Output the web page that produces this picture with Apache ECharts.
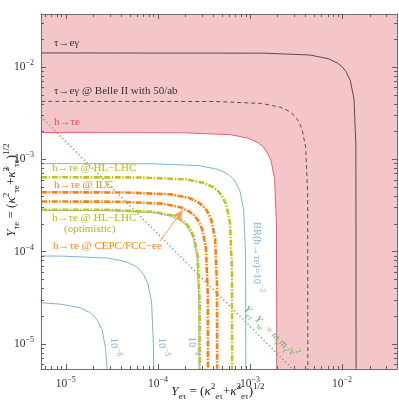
<!DOCTYPE html>
<html>
<head>
<meta charset="utf-8">
<script src="https://cdn.jsdelivr.net/npm/echarts@6/dist/echarts.min.js"></script>
<style>
  html, body { margin: 0; padding: 0; background: #fff; }
  #chart { width: 399px; height: 403px; }
</style>
</head>
<body>
<div id="chart"></div>
<script>
  // axis range (log10 scale) and tick values
  const xRange = [5.37e-6, 0.0395]
  const yRange = [5.37e-6, 0.0375]
  const majorTicks = [1e-5, 1e-4, 1e-3, 1e-2]
  const minorTicks = [6e-6, 7e-6, 8e-6, 9e-6,
    2e-5, 3e-5, 4e-5, 5e-5, 6e-5, 7e-5, 8e-5, 9e-5,
    2e-4, 3e-4, 4e-4, 5e-4, 6e-4, 7e-4, 8e-4, 9e-4,
    2e-3, 3e-3, 4e-3, 5e-3, 6e-3, 7e-3, 8e-3, 9e-3,
    2e-2, 3e-2]

  // curves: [Y_et, Y_te]
  const tauEGamma = [[5.4e-6, 0.0142], [0.00142, 0.01413], [0.00449, 0.01348], [0.0071, 0.0123], [0.00895, 0.01102], [0.01004, 0.01004], [0.01102, 0.00895], [0.0123, 0.0071], [0.01348, 0.00449], [0.01413, 0.00142], [0.0142, 5.4e-6]]
  const belle2 = [[5.4e-6, 0.00425], [0.000425, 0.00423], [0.00134, 0.00403], [0.002125, 0.00368], [0.00268, 0.0033], [0.003, 0.003], [0.0033, 0.00268], [0.00368, 0.002125], [0.00403, 0.00134], [0.00423, 0.000425], [0.00425, 5.4e-6]]
  const hTauE = [[5.4e-6, 0.00195], [0.000195, 0.00194], [0.000616, 0.00185], [0.000975, 0.00169], [0.00123, 0.00151], [0.00138, 0.00138], [0.00151, 0.00123], [0.00169, 0.000975], [0.00185, 0.000616], [0.00194, 0.000195], [0.00195, 5.4e-6]]
  const br1e3 = [[5.4e-6, 9e-4], [9e-5, 8.96e-4], [2.84e-4, 8.54e-4], [4.5e-4, 7.79e-4], [5.67e-4, 6.98e-4], [6.36e-4, 6.36e-4], [6.98e-4, 5.67e-4], [7.79e-4, 4.5e-4], [8.54e-4, 2.84e-4], [8.96e-4, 9e-5], [9e-4, 5.4e-6]]
  const hlLhc = [[5.4e-6, 6.4e-4], [6.4e-5, 6.37e-4], [2.02e-4, 6.07e-4], [3.2e-4, 5.54e-4], [4.03e-4, 4.97e-4], [4.52e-4, 4.52e-4], [4.97e-4, 4.03e-4], [5.54e-4, 3.2e-4], [6.07e-4, 2.02e-4], [6.37e-4, 6.4e-5], [6.4e-4, 5.4e-6]]
  const ilc = [[5.4e-6, 4.4e-4], [4.4e-5, 4.38e-4], [1.39e-4, 4.18e-4], [2.2e-4, 3.81e-4], [2.77e-4, 3.41e-4], [3.11e-4, 3.11e-4], [3.41e-4, 2.77e-4], [3.81e-4, 2.2e-4], [4.18e-4, 1.39e-4], [4.38e-4, 4.4e-5], [4.4e-4, 5.4e-6]]
  const cepc = [[5.4e-6, 3.5e-4], [3.5e-5, 3.48e-4], [1.11e-4, 3.32e-4], [1.75e-4, 3.03e-4], [2.2e-4, 2.72e-4], [2.47e-4, 2.47e-4], [2.72e-4, 2.2e-4], [3.03e-4, 1.75e-4], [3.32e-4, 1.11e-4], [3.48e-4, 3.5e-5], [3.5e-4, 5.4e-6]]
  const hlLhcOpt = [[5.4e-6, 2.85e-4], [2.85e-5, 2.84e-4], [9.0e-5, 2.7e-4], [1.43e-4, 2.47e-4], [1.8e-4, 2.21e-4], [2.02e-4, 2.02e-4], [2.21e-4, 1.8e-4], [2.47e-4, 1.43e-4], [2.7e-4, 9.0e-5], [2.84e-4, 2.85e-5], [2.85e-4, 5.4e-6]]
  const br1e4 = [[5.4e-6, 2.8e-4], [2.8e-5, 2.79e-4], [8.85e-5, 2.66e-4], [1.4e-4, 2.42e-4], [1.76e-4, 2.17e-4], [1.98e-4, 1.98e-4], [2.17e-4, 1.76e-4], [2.42e-4, 1.4e-4], [2.66e-4, 8.85e-5], [2.79e-4, 2.8e-5], [2.8e-4, 5.4e-6]]
  const br1e5 = [[5.4e-6, 8.98e-5], [9e-6, 8.96e-5], [2.84e-5, 8.54e-5], [4.5e-5, 7.79e-5], [5.67e-5, 6.98e-5], [6.36e-5, 6.36e-5], [6.98e-5, 5.67e-5], [7.79e-5, 4.5e-5], [8.54e-5, 2.84e-5], [8.96e-5, 9e-6], [8.98e-5, 5.4e-6]]
  const br1e6 = [[5.4e-6, 2.8e-5], [9.0e-6, 2.7e-5], [1.43e-5, 2.47e-5], [1.8e-5, 2.21e-5], [2.02e-5, 2.02e-5], [2.21e-5, 1.8e-5], [2.47e-5, 1.43e-5], [2.7e-5, 9.0e-6], [2.8e-5, 5.4e-6]]
  const naturalness = [[5.37e-6, 2.9e-3], [2.9e-3, 5.37e-6]] // Y_et * Y_te = m_e m_tau / v^2
  const arrowFrom = [1.05e-4, 1.3e-4]
  const arrowTo = [1.86e-4, 2.82e-4]

  const FONT = 'Liberation Serif'
  const PINK = '#f5c6c9'
  const RED = '#e5606a'
  const DARK = '#5a4a4e'
  const BLUE = '#7fb2dc'
  const YELLOW = '#c2c21f'
  const ORANGE = '#ff7f0e'
  const GREEN = '#55b655'
  const DASHDOT = [6, 1.5, 1.5, 1.5]

  const chart = echarts.init(document.getElementById('chart'), null, { renderer: 'canvas' })

  const supRich = {
    b: { fontFamily: FONT, fontSize: 11.5, color: '#333', lineHeight: 16 },
    sup: { fontFamily: FONT, fontSize: 8, color: '#333', verticalAlign: 'top', lineHeight: 8 }
  }
  function powLabel(v) {
    let e = Math.round(Math.log10(v))
    return '{b|10}{sup|−' + Math.abs(e) + '}'
  }

  // one log axis; kind = 'main' | 'major' | 'minor'
  function makeAxis(range, position, kind) {
    let ticks = kind === 'minor' ? minorTicks : majorTicks
    return {
      type: 'log',
      min: range[0],
      max: range[1],
      position: position,
      z: 10,
      axisLine: { show: kind !== 'minor', lineStyle: { color: '#6e6e6e', width: 1 } },
      axisTick: { show: true, inside: true, length: kind === 'minor' ? 3 : 5, customValues: ticks, lineStyle: { color: '#5e5e5e', width: 1 } },
      axisLabel: kind === 'main'
        ? { show: true, customValues: majorTicks, formatter: powLabel, rich: supRich, margin: 7 }
        : { show: false },
      splitLine: { show: false },
      minorTick: { show: false }
    }
  }

  function curve(name, data, color, width, type, z) {
    return {
      name: name,
      type: 'line',
      data: data,
      showSymbol: false,
      symbol: 'none',
      smooth: false,
      z: z,
      lineStyle: { color: color, width: width, type: type }
    }
  }

  function txt(text, x, y, color, rich, extra) {
    return Object.assign({
      type: 'text',
      x: x,
      y: y,
      z: 100,
      style: {
        text: text,
        fill: color,
        fontFamily: FONT,
        fontSize: 11,
        align: 'left',
        verticalAlign: 'middle',
        rich: rich || {}
      }
    }, extra || {})
  }

  function subSupRich(color, size) {
    return {
      i: { fontFamily: FONT, fontStyle: 'italic', fontSize: size, color: color, lineHeight: size + 6 },
      n: { fontFamily: FONT, fontSize: size, color: color, lineHeight: size + 6 },
      sub: { fontFamily: FONT, fontSize: size * 0.7, color: color, verticalAlign: 'bottom', lineHeight: size * 0.7 },
      sup: { fontFamily: FONT, fontSize: size * 0.7, color: color, verticalAlign: 'top', lineHeight: size * 0.7 }
    }
  }

  const xName = '{i|Y}{sub|eτ}{n| = (}{i|κ}{sup|2}{sub|eτ}{n|+}{i|κ̃}{sup|2}{sub|eτ}{n|)}{sup|1/2}'
  const yName = '{i|Y}{sub|τe}{n| = (}{i|κ}{sup|2}{sub|τe}{n|+}{i|κ̃}{sup|2}{sub|τe}{n|)}{sup|1/2}'
  const greenName = '{i|Y}{sub|eτ}{i| Y}{sub|τe}{n| = }{i|m}{sub|e}{i|m}{sub|τ}{n|/}{i|v}{sup|2}'

  const leftLabels = [
    txt('τ→eγ', 54, 43, '#333'),
    txt('τ→eγ @ Belle II with 50/ab', 54, 91, '#333'),
    txt('h→τe', 54, 122, '#e0485a'),
    txt('h→τe @ HL−LHC', 52, 168, '#b5b51a'),
    txt('h→τe @ ILC', 54, 185, ORANGE),
    txt('h→τe @ HL−LHC', 52, 218, '#b5b51a'),
    txt('(optimistic)', 64, 229, '#b5b51a'),
    txt('h→τe @ CEPC/FCC−ee', 53, 246, ORANGE)
  ]
  const centerLabels = [
    // rotated labels of the BR contours
    txt('{n|10}{sup|−6}', 114, 347, BLUE, subSupRich('#5b9bd0', 10.5), { rotation: -Math.PI / 2 }),
    txt('{n|10}{sup|−5}', 162, 347, BLUE, subSupRich('#5b9bd0', 10.5), { rotation: -Math.PI / 2 }),
    txt('{n|10}{sup|−4}', 192, 346, BLUE, subSupRich('#5b9bd0', 10.5), { rotation: -Math.PI / 2 }),
    txt('{n|BR(h→τe)=10}{sup|−3}', 257, 257, BLUE, subSupRich('#5b9bd0', 10.5), { rotation: -Math.PI / 2 }),
    txt(greenName, 271, 332, GREEN, subSupRich('#4cae4c', 10.5), { rotation: -0.76 }),
    // axis names
    txt(xName, 218, 392, '#222', subSupRich('#222', 13)),
    txt(yName, 12, 190, '#222', subSupRich('#222', 13), { rotation: Math.PI / 2 })
  ]
  centerLabels.forEach(g => { g.style.align = 'center' })

  chart.setOption({
    animation: false,
    backgroundColor: '#fff',
    grid: {
      left: 41,
      top: 14,
      right: 2,
      bottom: 34,
      show: true,
      backgroundColor: PINK,
      borderWidth: 0
    },
    xAxis: [
      makeAxis(xRange, 'bottom', 'main'),
      makeAxis(xRange, 'top', 'major'),
      makeAxis(xRange, 'top', 'minor'),
      makeAxis(xRange, 'bottom', 'minor')
    ],
    yAxis: [
      makeAxis(yRange, 'left', 'main'),
      makeAxis(yRange, 'right', 'major'),
      makeAxis(yRange, 'right', 'minor'),
      makeAxis(yRange, 'left', 'minor')
    ],
    series: [
      // allowed (white) region inside the h->te limit
      {
        type: 'line',
        data: hTauE,
        showSymbol: false,
        symbol: 'none',
        z: 1,
        lineStyle: { width: 0 },
        areaStyle: { color: '#fff', opacity: 1, origin: 'start' }
      },
      curve('BR 1e-6', br1e6, BLUE, 1, 'solid', 2),
      curve('BR 1e-5', br1e5, BLUE, 1, 'solid', 2),
      curve('BR 1e-4', br1e4, BLUE, 1, 'solid', 2),
      curve('BR 1e-3', br1e3, BLUE, 1, 'solid', 2),
      curve('naturalness', naturalness, GREEN, 1.5, [1.2, 2.6], 3),
      curve('HL-LHC opt', hlLhcOpt, YELLOW, 2.6, DASHDOT, 4),
      Object.assign(curve('CEPC', cepc, ORANGE, 2.6, DASHDOT, 4), {
        markLine: {
          silent: true,
          symbol: ['none', 'arrow'],
          symbolSize: [8, 11],
          label: { show: false },
          lineStyle: { color: '#ff9f5a', width: 1, type: 'solid' },
          data: [[{ coord: arrowFrom }, { coord: arrowTo }]]
        }
      }),
      curve('ILC', ilc, ORANGE, 2.6, DASHDOT, 4),
      curve('HL-LHC', hlLhc, YELLOW, 2.6, DASHDOT, 4),
      curve('h->te', hTauE, RED, 1, 'solid', 5),
      curve('Belle II', belle2, DARK, 1, [4, 3], 5),
      curve('tau->e gamma', tauEGamma, DARK, 1, 'solid', 5)
    ],
    graphic: leftLabels.concat(centerLabels)
  })
</script>
</body>
</html>
